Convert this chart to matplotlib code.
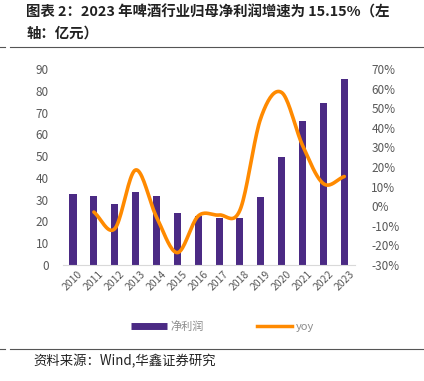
import numpy as np
import matplotlib.pyplot as plt
from matplotlib.lines import Line2D

plt.rcParams['font.family'] = ['Noto Sans CJK SC', 'DejaVu Sans']

# data
years = ['2010', '2011', '2012', '2013', '2014', '2015', '2016',
         '2017', '2018', '2019', '2020', '2021', '2022', '2023']
profit = [32.4, 31.5, 28.0, 33.5, 31.5, 24.0, 22.5,
          21.8, 21.5, 31.3, 49.5, 66.0, 74.2, 85.3]
yoy = [np.nan, -3.0, -11.5, 18.5, -5.5, -23.7, -5.0,
       -4.5, -2.0, 45.0, 58.0, 31.0, 11.5, 15.15]

bar_col = '#4B2A84'
line_col = '#FF8A00'
grey = '#595959'


def smooth(xs, ys, n=20):
    # catmull-rom curve through the points (like excel's smoothed line)
    xs = np.asarray(xs, float)
    ys = np.asarray(ys, float)
    px = np.concatenate([[2 * xs[0] - xs[1]], xs, [2 * xs[-1] - xs[-2]]])
    py = np.concatenate([[2 * ys[0] - ys[1]], ys, [2 * ys[-1] - ys[-2]]])
    outx, outy = [], []
    for i in range(1, len(px) - 2):
        t = np.linspace(0, 1, n, endpoint=False)
        for p, out in ((px, outx), (py, outy)):
            p0, p1, p2, p3 = p[i - 1], p[i], p[i + 1], p[i + 2]
            out.extend(0.5 * (2 * p1 + (-p0 + p2) * t
                              + (2 * p0 - 5 * p1 + 4 * p2 - p3) * t ** 2
                              + (-p0 + 3 * p1 - 3 * p2 + p3) * t ** 3))
    outx.append(xs[-1])
    outy.append(ys[-1])
    return np.array(outx), np.array(outy)


fig = plt.figure(figsize=(4.24, 3.81), dpi=100)
ax = fig.add_axes([0.1476, 0.3045, 0.689, 0.5144])
ax2 = ax.twinx()

x = np.arange(len(years))
ax.bar(x, profit, width=0.34, color=bar_col, zorder=2)
ax.set_ylim(0, 90)
ax.set_xlim(-0.5, len(years) - 0.5)
ax.set_yticks(np.arange(0, 91, 10))
ax.set_xticks(x)
ax.set_xticklabels(years, rotation=45, fontsize=7.5, color=grey,
                   ha='center', va='top')

mask = ~np.isnan(yoy)
sx, sy = smooth(x[mask], np.array(yoy)[mask])
ax2.plot(sx, sy, color=line_col, lw=2.6, solid_capstyle='round', zorder=3)
ax2.set_ylim(-30, 70)
ax2.set_yticks(np.arange(-30, 71, 10))
ax2.set_yticklabels([f'{v}%' for v in range(-30, 71, 10)])

for a in (ax, ax2):
    for s in a.spines.values():
        s.set_visible(False)
    a.tick_params(length=0, labelsize=8.5, labelcolor=grey)
ax.spines['bottom'].set_visible(True)
ax.spines['bottom'].set_color('#d9d9d9')
ax.tick_params(axis='y', pad=10)
ax.tick_params(axis='x', pad=3, labelsize=7.5)
ax2.tick_params(axis='y', pad=12)

# title
fig.text(0.062, 0.968, '图表 2：2023 年啤酒行业归母净利润增速为 15.15%（左',
         fontsize=10.4, fontweight='bold', color='#222222', va='center')
fig.text(0.062, 0.913, '轴：亿元）', fontsize=10.4, fontweight='bold',
         color='#222222', va='center')
fig.add_artist(Line2D([0, 0.012], [0.877, 0.877], color='#555555', lw=0.8))
fig.add_artist(Line2D([0.024, 1], [0.877, 0.877], color='#555555', lw=0.8))
fig.add_artist(Line2D([0, 0.012], [0.084, 0.084], color='#555555', lw=0.8))
fig.add_artist(Line2D([0.024, 1], [0.084, 0.084], color='#555555', lw=0.8))

# legend
handles = [Line2D([], [], color=bar_col, lw=5, solid_capstyle='butt'),
           Line2D([], [], color=line_col, lw=2.5)]
fig.legend(handles, ['净利润', 'yoy'], ncol=2, loc='center',
           bbox_to_anchor=(0.525, 0.142), frameon=False, fontsize=8,
           handlelength=3.2, handletextpad=0.3, columnspacing=4.8,
           labelcolor='#8c8c8c')

fig.text(0.078, 0.052, '资料来源：Wind,华鑫证券研究', fontsize=9.6,
         color='#222222', va='center')

fig.savefig('out.png', dpi=100)
